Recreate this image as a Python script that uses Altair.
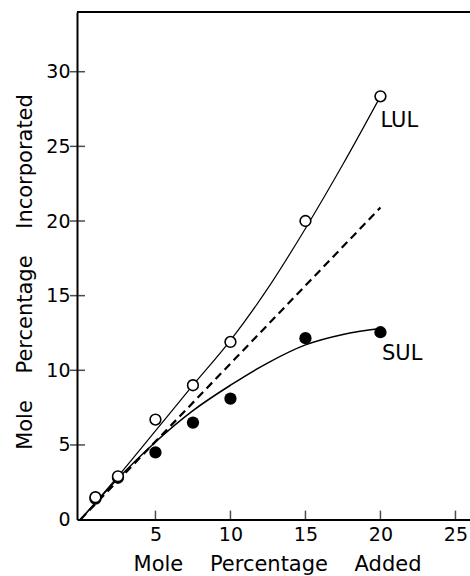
import altair as alt
import pandas as pd

# ---- data ----
x_added = [1, 2.5, 5, 7.5, 10, 15, 20]
lul_points = [1.5, 2.9, 6.7, 9.0, 11.9, 20.0, 28.35]
sul_points = [1.4, 2.8, 4.5, 6.5, 8.1, 12.15, 12.55]

curve_x = [0, 2.5, 5, 7.5, 10, 12.5, 15, 17.5, 20]
lul_curve = [0, 2.9, 5.95, 9.0, 12.0, 15.5, 19.5, 23.8, 28.35]
sul_curve = [0, 2.75, 5.2, 7.3, 9.0, 10.5, 11.7, 12.4, 12.8]

ref_x = [0, 20]
ref_y = [0, 20.9]

x_ticks = [5, 10, 15, 20, 25]
y_ticks = [0, 5, 10, 15, 20, 25, 30]
y_tick_marks = [5, 10, 15, 20, 25, 30]

series_labels = ["LUL", "SUL"]
label_x = [20.0, 20.1]
label_y = [26.7, 11.1]

x_domain = [-0.23, 25.97]
y_domain = [0, 34]

FONT = "DejaVu Sans"
NB = "\u00a0"

# ---- tables ----
pts_lul = pd.DataFrame({"x": x_added, "y": lul_points})
pts_sul = pd.DataFrame({"x": x_added, "y": sul_points})
crv_lul = pd.DataFrame({"x": curve_x, "y": lul_curve})
crv_sul = pd.DataFrame({"x": curve_x, "y": sul_curve})
ref = pd.DataFrame({"x": ref_x, "y": ref_y})
lab = pd.DataFrame({"x": label_x, "y": label_y, "t": series_labels})
xt = pd.DataFrame({"x": x_ticks})
yt = pd.DataFrame({"y": y_tick_marks})
frame_top = pd.DataFrame({"y": [y_domain[1]]})

xs = alt.Scale(domain=x_domain, nice=False, zero=False)
ys = alt.Scale(domain=y_domain, nice=False, zero=False)

x_axis = alt.Axis(
    values=x_ticks, ticks=False, tickSize=0, domain=True, domainWidth=2,
    domainColor="black", grid=False,
    labelFont=FONT, labelFontSize=19, labelColor="black", labelPadding=6,
    labelFlush=False,
    title=f"Mole{NB*4}Percentage{NB*4}Added",
    titleFont=FONT, titleFontSize=21, titleFontWeight="normal", titleColor="black",
    titleY=33.5, titleBaseline="top", titleX=200,
)
y_axis = alt.Axis(
    values=y_ticks, ticks=False, tickSize=0, domain=True, domainWidth=2,
    domainColor="black", grid=False,
    labelFont=FONT, labelFontSize=19, labelColor="black", labelPadding=7,
    title=f"Mole{NB*4}Percentage{NB*4}Incorporated",
    titleFont=FONT, titleFontSize=21, titleFontWeight="normal", titleColor="black",
    titleX=-42, titleY=259.5, titleBaseline="bottom",
)

base_x = alt.X("x:Q", scale=xs, axis=x_axis)
base_y = alt.Y("y:Q", scale=ys, axis=y_axis)

line_lul = alt.Chart(crv_lul).mark_line(
    color="black", strokeWidth=1.2, interpolate="monotone"
).encode(x=base_x, y=base_y)
line_sul = alt.Chart(crv_sul).mark_line(
    color="black", strokeWidth=1.5, interpolate="monotone"
).encode(x="x:Q", y="y:Q")
line_ref = alt.Chart(ref).mark_line(
    color="black", strokeWidth=2.2, strokeDash=[8, 5]
).encode(x="x:Q", y="y:Q")

dots_sul = alt.Chart(pts_sul).mark_point(
    shape="circle", filled=True, color="black", size=150, opacity=1
).encode(x="x:Q", y="y:Q")
dots_lul = alt.Chart(pts_lul).mark_point(
    shape="circle", filled=True, fill="white", stroke="black", strokeWidth=1.6,
    size=115, opacity=1
).encode(x="x:Q", y="y:Q")

texts = alt.Chart(lab).mark_text(
    font=FONT, fontSize=21, color="black", align="left", baseline="middle"
).encode(x="x:Q", y="y:Q", text="t:N")

xtick_marks = alt.Chart(xt).mark_tick(
    orient="vertical", size=9, thickness=1.5, color="black", yOffset=-4.5
).encode(x="x:Q", y=alt.datum(y_domain[0]))
ytick_marks = alt.Chart(yt).mark_tick(
    orient="horizontal", size=15, thickness=1.5, color="black", xOffset=0.5
).encode(y="y:Q", x=alt.datum(x_domain[0]))

top_line = alt.Chart(frame_top).mark_rule(
    color="black", strokeWidth=2
).encode(y="y:Q")

chart = alt.layer(
    line_lul, line_sul, line_ref, dots_sul, dots_lul, texts,
    xtick_marks, ytick_marks, top_line
).properties(
    width=393, height=507.6,
    autosize=alt.AutoSizeParams(type="none"),
    padding={"left": 77, "top": 12, "right": 0, "bottom": 56},
    background="white",
).configure_view(
    strokeWidth=0
)

chart.save("out.html", embed_options={"renderer": "svg", "actions": False})
